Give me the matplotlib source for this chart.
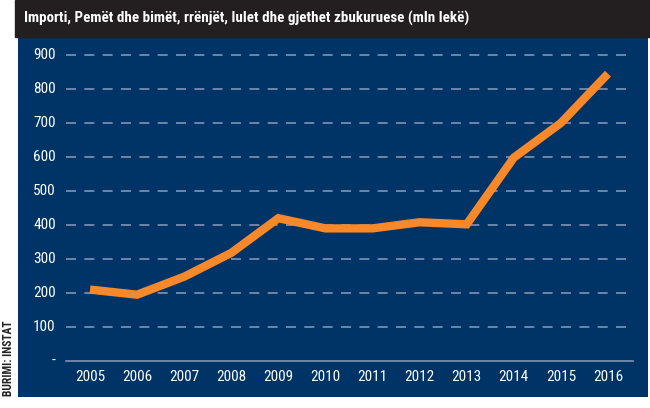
import matplotlib
matplotlib.use("Agg")
import matplotlib.pyplot as plt
from matplotlib.patches import Rectangle
from matplotlib import font_manager

years = [2005, 2006, 2007, 2008, 2009, 2010, 2011, 2012, 2013, 2014, 2015, 2016]
values = [210, 195, 248, 318, 420, 390, 390, 408, 402, 598, 700, 845]
yticks = [0, 100, 200, 300, 400, 500, 600, 700, 800, 900]
ytick_labels = ["-", "100", "200", "300", "400", "500", "600", "700", "800", "900"]
title = "Importi, Pemët dhe bimët, rrënjët, lulet dhe gjethet zbukuruese (mln lekë)"
source = "BURIMI: INSTAT"

names = {f.name for f in font_manager.fontManager.ttflist}
pref = ["Roboto Condensed", "Open Sans Condensed", "DejaVu Sans Condensed",
        "Liberation Sans Narrow", "Noto Sans Condensed", "Roboto"]
narrow = next((p for p in pref if p in names), "DejaVu Sans")
fam = [narrow, "DejaVu Sans"]

W, H = 650, 408
fig = plt.figure(figsize=(6.5, 4.08), dpi=100, facecolor="white")
renderer = fig.canvas.get_renderer()

# title bar
fig.patches.append(Rectangle((15 / W, 1 - 37 / H), (650 - 15) / W, 37 / H,
                             transform=fig.transFigure, color="#231f20", zorder=0))
tt = fig.text(24 / W, 1 - 18 / H, title, color="white", fontsize=13, fontweight="heavy",
              family=fam, va="center", ha="left")
w = tt.get_window_extent(renderer).width
tt.set_fontsize(13 * 442 / w)

# source text
st = fig.text(9 / W, 1 - 358 / H, source, rotation=90, fontsize=8, color="#222222",
              va="center", ha="center", family=fam, fontweight="bold")
h = st.get_window_extent(renderer).height
st.set_fontsize(8 * 76 / h)

ax = fig.add_axes([18 / W, 1 - 397 / H, (648 - 18) / W, (397 - 37) / H])
ax.set_facecolor("#003366")
for s in ax.spines.values():
    s.set_visible(False)
ax.set_xticks([])
ax.set_yticks([])

ax.set_xlim(2003.47, 2016.85)
ax.set_ylim(-105.9, 952.9)

x0, x1 = 2004.49, 2016.53
for t in yticks[1:]:
    ax.plot([x0, x1], [t, t], color="#8094b3", lw=1.2, dashes=(6, 5), zorder=1)
ax.plot([x0, x1], [0, 0], color="#8094b3", lw=1.2, zorder=1)

for t, lab in zip(yticks, ytick_labels):
    ax.text(2004.27, t, lab, color="white", fontsize=11, ha="right", va="center",
            family=fam)
for y in years:
    ax.text(y, -47, str(y), color="white", fontsize=11, ha="center", va="center",
            family=fam)

ax.plot(years, values, color="#f7892a", lw=6, solid_joinstyle="miter",
        solid_capstyle="butt", zorder=3)

fig.savefig("out.png", dpi=100, facecolor="white")
